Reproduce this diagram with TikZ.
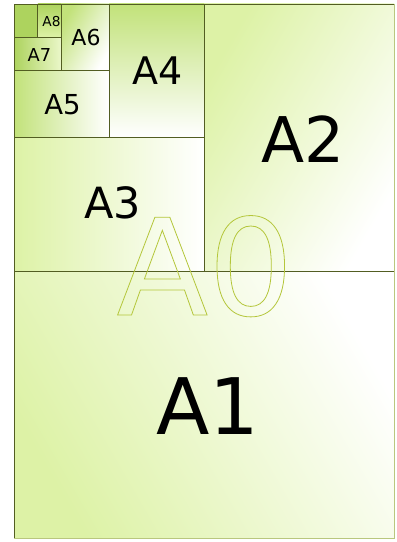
\documentclass[tikz,border=0pt]{standalone}
\usepackage{fontspec}
\setmainfont{DejaVu Sans}

\definecolor{leaf}{HTML}{ADD35E}
\definecolor{brightleaf}{HTML}{C2E27A}
\definecolor{paleleaf}{HTML}{DDF2A6}
\definecolor{edgeolive}{HTML}{525D22}
\definecolor{rimgreen}{HTML}{B9C77E}
\definecolor{hollowgreen}{HTML}{B4C63A}

% hollow letters (stroked, not filled)
\newcommand\hollow[1]{\special{pdf:literal direct 1 Tr 0.8 w}#1\special{pdf:literal direct 0 Tr}}

\tikzset{
  sheet/.style={edgeolive, line width=0.8pt},
  lbl/.style={anchor=base, inner sep=0pt, font=\fontsize{#1}{#1}\selectfont},
}

\begin{document}
\begin{tikzpicture}[x=1pt, y=1pt]
        % ==== DEFINITIONS ====
        \def\xl{14}   % left edge
        \def\xr{394}  % right edge
        \def\yb{4}    % bottom edge
        \def\yt{538}  % top edge

        \useasboundingbox (0,0) rectangle (397,542);
        \fill[white] (0,0) rectangle (397,542);

        % ==== SHADED SHEETS ====
        \shade[left color=paleleaf, right color=white, shading angle=120] (\xl,\yb) rectangle (\xr,271);       % A1
        \shade[left color=paleleaf, right color=white, shading angle=60] (204,271) rectangle (\xr,\yt);        % A2
        \shade[left color=paleleaf, right color=white] (\xl,271) rectangle (204,404.5);                        % A3
        \shade[top color=brightleaf, bottom color=white] (109,404.5) rectangle (204,\yt);                      % A4
        \shade[left color=brightleaf, right color=white] (\xl,404.5) rectangle (109,471.25);                   % A5
        \shade[left color=brightleaf, right color=white, shading angle=60] (61.5,471.25) rectangle (109,\yt);  % A6
        \shade[left color=leaf, right color=paleleaf!60] (\xl,471.25) rectangle (61.5,504.6);                  % A7
        \shade[top color=leaf, bottom color=paleleaf] (37.75,504.6) rectangle (61.5,\yt);                      % A8
        \fill[leaf] (\xl,504.6) rectangle (37.75,\yt);                                                         % A9

        % ==== CUT LINES ====
        \draw[rimgreen, line width=0.8pt] (\xr,\yt) -- (\xr,\yb) -- (\xl,\yb);
        \draw[sheet] (\xl,\yb) -- (\xl,\yt) -- (\xr,\yt);
        \draw[sheet] (\xl,271) -- (\xr,271);
        \draw[sheet] (204,271) -- (204,\yt);
        \draw[sheet] (\xl,404.5) -- (204,404.5);
        \draw[sheet] (109,404.5) -- (109,\yt);
        \draw[sheet] (\xl,471.25) -- (109,471.25);
        \draw[sheet] (61.5,471.25) -- (61.5,\yt);
        \draw[sheet] (\xl,504.6) -- (61.5,504.6);
        \draw[sheet] (37.75,504.6) -- (37.75,\yt);

        % ==== LABELS ====
        \node[lbl=78] (a1) at (207.5,107) {A1};
        \node[lbl=63] (a2) at (303,379) {A2};
        \node[lbl=43] (a3) at (112.5,323) {A3};
        \node[lbl=38] (a4) at (157.5,457) {A4};
        \node[lbl=27.5] (a5) at (62.5,427) {A5};
        \node[lbl=22] (a6) at (86,496) {A6};
        \node[lbl=17.8] (a7) at (39.5,480) {A7};
        \node[lbl=13.7] (a8) at (51.5,515) {A8};

        % ==== A0 ====
        \node[lbl=134, text=hollowgreen] (a0) at (205,227) {\hollow{A0}};
\end{tikzpicture}
\end{document}
